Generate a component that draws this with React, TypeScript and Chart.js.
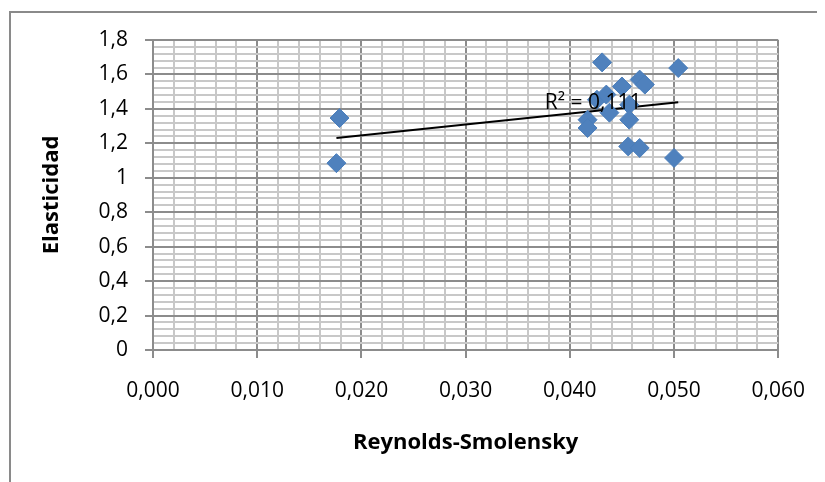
import React, { useEffect, useRef } from "react";
import { Chart, registerables } from "chart.js";

Chart.register(...registerables);

const xValues = [0.0431, 0.0504, 0.0467, 0.0472, 0.045, 0.0426, 0.0435, 0.0438, 0.0457, 0.0417, 0.0417, 0.0457, 0.0456, 0.0467, 0.05, 0.0179, 0.0176];
const yValues = [1.67, 1.637, 1.57, 1.541, 1.53, 1.453, 1.483, 1.378, 1.424, 1.337, 1.289, 1.337, 1.182, 1.173, 1.115, 1.347, 1.085];
const trendX = [0.0176, 0.0504];
const trendY = [1.231, 1.438];
const r2Label = "R\u00b2 = 0,111";
const r2Anchor = [0.0376, 1.436];
const xTitle = "Reynolds-Smolensky";
const yTitle = "Elasticidad";

const MAJOR = "#8c8c8c";
const MINOR = "#c8c8c8";

const isMajor = (v: number, step: number) => Math.abs(v / step - Math.round(v / step)) < 1e-6;

export default function App() {
  const ref = useRef<HTMLCanvasElement>(null);
  useEffect(() => {
    if (!ref.current) return;
    const labelPlugin = {
      id: "r2label",
      afterDatasetsDraw(chart: any) {
        const { ctx, scales } = chart;
        const x = scales.x.getPixelForValue(r2Anchor[0]);
        const y = scales.y.getPixelForValue(r2Anchor[1]);
        ctx.save();
        ctx.font = "21px 'Open Sans'";
        ctx.fillStyle = "#000";
        ctx.textAlign = "left";
        ctx.textBaseline = "middle";
        ctx.fillText(r2Label, x, y);
        ctx.restore();
      },
    };
    const chart = new Chart(ref.current, {
      type: "scatter",
      data: {
        datasets: [
          {
            data: xValues.map((x, i) => ({ x, y: yValues[i] })),
            pointStyle: "rectRot",
            pointRadius: 9.5,
            pointHoverRadius: 9.5,
            backgroundColor: "#4f81bd",
            borderColor: "#4a7ebb",
            borderWidth: 1,
          },
          {
            data: trendX.map((x, i) => ({ x, y: trendY[i] })),
            showLine: true,
            borderColor: "#000",
            borderWidth: 2,
            pointRadius: 0,
            pointHoverRadius: 0,
          },
        ],
      },
      options: {
        responsive: false,
        animation: false,
        layout: { padding: { top: 32, right: 46, bottom: 0, left: 0 } },
        plugins: { legend: { display: false }, tooltip: { enabled: false } },
        scales: {
          x: {
            type: "linear",
            min: 0,
            max: 0.06,
            afterFit: (s: any) => { s.height = 132; },
            ticks: {
              stepSize: 0.002,
              maxTicksLimit: 100,
              autoSkip: false,
              maxRotation: 0,
              padding: 20,
              color: "#000",
              font: { family: "'Open Sans'", size: 21 },
              callback: (v: any) => (isMajor(Number(v), 0.01) ? Number(v).toFixed(3).replace(".", ",") : ""),
            },
            grid: {
              color: (c: any) => (isMajor(c.tick?.value ?? 0, 0.01) ? MAJOR : MINOR),
              tickColor: (c: any) => (isMajor(c.tick?.value ?? 0, 0.01) ? MAJOR : "rgba(0,0,0,0)"),
              lineWidth: 2,
              tickWidth: 2,
              tickLength: 8,
            },
            border: { color: MAJOR, width: 2 },
            title: {
              display: true,
              text: xTitle,
              color: "#000",
              font: { family: "'Open Sans'", size: 22, weight: "bold" },
              padding: { top: 0, bottom: 26 },
            },
          },
          y: {
            type: "linear",
            min: 0,
            max: 1.8,
            afterFit: (s: any) => { s.width = 145; },
            ticks: {
              stepSize: 0.04,
              maxTicksLimit: 100,
              autoSkip: false,
              padding: 17,
              color: "#000",
              font: { family: "'Open Sans'", size: 21 },
              callback: (v: any) => {
                const n = Number(v);
                if (!isMajor(n, 0.2)) return "";
                return String(Math.round(n * 10) / 10).replace(".", ",");
              },
            },
            grid: {
              color: (c: any) => (isMajor(c.tick?.value ?? 0, 0.2) ? MAJOR : MINOR),
              tickColor: (c: any) => (isMajor(c.tick?.value ?? 0, 0.2) ? MAJOR : "rgba(0,0,0,0)"),
              lineWidth: 2,
              tickWidth: 2,
              tickLength: 8,
            },
            border: { color: MAJOR, width: 2 },
            title: {
              display: true,
              text: yTitle,
              color: "#000",
              font: { family: "'Open Sans'", size: 22, weight: "bold" },
              padding: { top: 31, bottom: 0 },
            },
          },
        },
      },
      plugins: [labelPlugin],
    });
    return () => chart.destroy();
  }, []);
  return (
    <div style={{ position: "relative", width: 817, height: 474, overflow: "hidden" }}>
      <div
        style={{
          position: "absolute",
          left: 1,
          top: 3,
          width: 900,
          height: 600,
          border: "2px solid #8a8a8a",
          pointerEvents: "none",
        }}
      />
      <canvas ref={ref} width={817} height={474} style={{ position: "absolute", left: 0, top: 0, display: "block" }} />
    </div>
  );
}
